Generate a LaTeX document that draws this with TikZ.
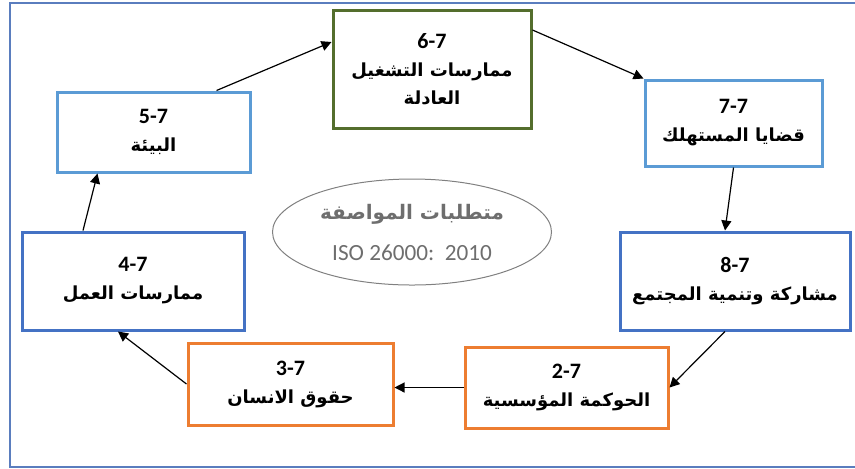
\documentclass[tikz,border=0pt]{standalone}
\usepackage{fontspec}
\setmainfont{Carlito}
\newfontfamily\arabicfont[Script=Arabic]{DejaVu Sans}
\TeXXeTstate=1
\usetikzlibrary{arrows.meta,shapes.geometric}
\definecolor{cGreen}{RGB}{84,110,45}
\definecolor{cLight}{RGB}{91,155,213}
\definecolor{cBlue}{RGB}{68,114,196}
\definecolor{cOrange}{RGB}{237,125,49}
\definecolor{cFrame}{RGB}{90,125,190}
\definecolor{cText}{RGB}{110,110,110}
\newcommand{\artext}[1]{{\arabicfont\fontsize{9}{14}\selectfont\beginR #1\endR}}

\begin{document}
\begin{tikzpicture}[x=0.5pt,y=-0.5pt,
    box/.style={draw, line width=1.5pt, fill=white, align=center, inner sep=0pt,
        font=\bfseries\fontsize{11}{14}\selectfont},
    link/.style={-{Triangle[length=5pt,width=5pt]}, line width=0.6pt}]
        \useasboundingbox (0,0) rectangle (855,468);
        \draw[cFrame, line width=1.2pt] (860,3) -- (10,3) -- (10,467) -- (860,467);

        % the eight boxes, clockwise from the top
        \node[box, draw=cGreen, minimum width=99pt, minimum height=59pt] (b6) at (432,69)
            {6-7\\ \artext{ممارسات  التشغيل}\\ \artext{العادلة}};
        \node[box, draw=cLight, minimum width=88.5pt, minimum height=43pt] (b7) at (733.5,123)
            {7-7\\ \artext{قضايا المستهلك}};
        \node[box, draw=cBlue, minimum width=115pt, minimum height=49pt] (b8) at (735,281)
            {8-7\\ \artext{مشاركة وتنمية المجتمع}};
        \node[box, draw=cOrange, minimum width=101.5pt, minimum height=40.5pt] (b2) at (566.5,387.5)
            {2-7\\ \artext{الحوكمة المؤسسية}};
        \node[box, draw=cOrange, minimum width=102.5pt, minimum height=41pt] (b3) at (290.5,384)
            {3-7\\ \artext{حقوق الانسان}};
        \node[box, draw=cBlue, minimum width=111pt, minimum height=49pt] (b4) at (133,281)
            {4-7\\ \artext{ممارسات العمل}};
        \node[box, draw=cLight, minimum width=96.5pt, minimum height=40pt] (b5) at (153.5,132)
            {5-7\\ \artext{البيئة}};

        % the standard in the middle
        \node[ellipse, draw=gray, line width=0.5pt, minimum width=136pt, minimum height=53pt,
            align=center, text=cText, font=\fontsize{11.6}{20.5}\selectfont] (iso) at (412,232)
            {{\arabicfont\bfseries\fontsize{10}{20.5}\selectfont\beginR متطلبات المواصفة\endR}\\
             ISO 26000:\ \ 2010};

        \draw[link] ([xshift=31.5pt]b5.north) -- ([yshift=13.5pt]b6.west);
        \draw[link] ([yshift=19.5pt]b6.east) -- (b7.north west);
        \draw[link] (b7.south) -- ([xshift=-5pt]b8.north);
        \draw[link] ([xshift=-5pt]b8.south) -- (b2.east);
        \draw[link] (b2.west) -- (b2.west -| b3.east);
        \draw[link] (b3.west) -- ([xshift=-7.5pt]b4.south);
        \draw[link] ([xshift=-25pt]b4.north) -- ([xshift=-28pt]b5.south);
\end{tikzpicture}
\end{document}
